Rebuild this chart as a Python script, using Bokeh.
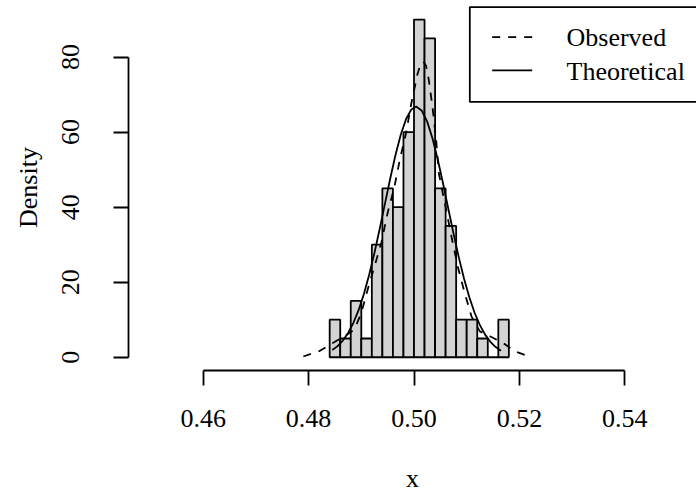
from bokeh.plotting import figure
from bokeh.models import Range1d, FixedTicker, ColumnDataSource
from bokeh.embed import file_html
from bokeh.resources import INLINE
from bokeh.core.properties import value

# ---------------- data ----------------
breaks = [0.484, 0.486, 0.488, 0.490, 0.492, 0.494, 0.496, 0.498, 0.500,
          0.502, 0.504, 0.506, 0.508, 0.510, 0.512, 0.514, 0.516, 0.518]
density = [10, 5, 15, 5, 30, 45, 40, 60, 90, 85, 45, 35, 10, 10, 5, 0, 10]

obs_x = [0.4790, 0.4820, 0.4846, 0.4868, 0.4887, 0.4900, 0.4912, 0.4925,
         0.4938, 0.4950, 0.4963, 0.4973, 0.4985, 0.4995, 0.5007, 0.5013,
         0.5018, 0.5023, 0.5028, 0.5035, 0.5042, 0.5047, 0.5061, 0.5071,
         0.5083, 0.5096, 0.5109, 0.5125, 0.5144, 0.5169, 0.5191, 0.5216]
obs_y = [0.2, 1.6, 3.8, 5.6, 7.4, 11.8, 18.0, 24.2,
         30.5, 38.5, 45.5, 52.6, 59.8, 67.7, 75.7, 78.2,
         78.8, 77.6, 74.0, 66.8, 58.0, 49.1, 39.3, 32.2,
         24.2, 17.2, 10.9, 6.9, 5.6, 3.8, 1.6, 0.3]

theo_x = [0.4845, 0.4855, 0.4865, 0.4875, 0.4885, 0.4895, 0.4905, 0.4915,
          0.4925, 0.4935, 0.4945, 0.4955, 0.4965, 0.4975, 0.4985, 0.4995,
          0.5004, 0.5015, 0.5025, 0.5035, 0.5045, 0.5055, 0.5065, 0.5075,
          0.5085, 0.5095, 0.5105, 0.5115, 0.5125, 0.5135, 0.5145, 0.5155,
          0.5165]
theo_y = [1.93, 2.96, 4.44, 6.47, 9.17, 12.61, 16.89, 21.99,
          27.85, 34.25, 41.01, 47.70, 53.97, 59.37, 63.50, 66.05,
          66.80, 65.67, 62.79, 58.38, 52.76, 46.38, 39.63, 32.94,
          26.61, 20.90, 15.97, 11.86, 8.57, 6.02, 4.11, 2.72,
          1.76]

x_ticks = [0.46, 0.48, 0.50, 0.52, 0.54]
y_ticks = [0, 20, 40, 60, 80]
legend_labels = ["Observed", "Theoretical"]
x_title = "x"
y_title = "Density"

# ---------------- layout ----------------
W, H = 696, 495
L, R, T, B = 128, 696, 4, 371          # frame edges in pixels
SX = 5270.0                            # px per x unit
SY = 3.7625                            # px per y unit
X_AT_PX, PX_OF_X = 0.46, 202.7
Y0_PX = 357.7

x_start = X_AT_PX - (PX_OF_X - L) / SX
x_end = X_AT_PX + (R - PX_OF_X) / SX
y_start = -(B - Y0_PX) / SY
y_end = (Y0_PX - T) / SY


def dx(px):
    return X_AT_PX + (px - PX_OF_X) / SX


def dy(py):
    return (Y0_PX - py) / SY


FONT = value("Liberation Serif")
FS = "26px"
LW = 1.8

p = figure(width=W, height=H, output_backend="svg", toolbar_location=None,
           x_range=Range1d(x_start, x_end), y_range=Range1d(y_start, y_end),
           min_border_left=L, min_border_right=0, min_border_top=T,
           min_border_bottom=H - B)
p.outline_line_color = None
p.grid.visible = False
p.background_fill_color = "white"
p.border_fill_color = "white"

# histogram bars
src = ColumnDataSource(dict(left=breaks[:-1], right=breaks[1:],
                            top=density, bottom=[0] * len(density)))
p.quad(left="left", right="right", top="top", bottom="bottom", source=src,
       fill_color="#D3D3D3", line_color="black", line_width=LW)

# curves
p.line(obs_x, obs_y, line_color="black", line_width=LW, line_dash="8 8")
p.line(theo_x, theo_y, line_color="black", line_width=LW)

# legend box (drawn by hand, R style)
p.quad(left=[dx(469.3)], right=[dx(720)], top=[dy(6.7)], bottom=[dy(101.7)],
       fill_color=None, line_color="black", line_width=LW)
p.line([dx(491.7), dx(531.7)], [dy(36.7)] * 2, line_color="black",
       line_width=LW, line_dash="8 8")
p.line([dx(491.7), dx(531.7)], [dy(70)] * 2, line_color="black",
       line_width=LW)
p.text(x=[dx(566)] * 2, y=[dy(37.5), dy(71)], text=legend_labels,
       text_font=FONT, text_font_size=FS, text_baseline="middle",
       text_align="left", text_color="black")

# axes
xa = p.xaxis[0]
xa.ticker = FixedTicker(ticks=x_ticks)
xa.major_label_overrides = {t: f"{t:.2f}" for t in x_ticks}
xa.bounds = (x_ticks[0], x_ticks[-1])
xa.axis_label = x_title

ya = p.yaxis[0]
ya.ticker = FixedTicker(ticks=y_ticks)
ya.major_label_overrides = {t: str(t) for t in y_ticks}
ya.bounds = (y_ticks[0], y_ticks[-1])
ya.axis_label = y_title
ya.major_label_orientation = "vertical"

for ax in (xa, ya):
    ax.minor_tick_line_color = None
    ax.major_tick_in = 0
    ax.major_tick_out = 15
    ax.axis_line_width = LW
    ax.major_tick_line_width = LW
    ax.axis_line_color = "black"
    ax.major_tick_line_color = "black"
    ax.major_label_text_font = "Liberation Serif"
    ax.major_label_text_font_size = FS
    ax.major_label_text_color = "black"
    ax.axis_label_text_font = "Liberation Serif"
    ax.axis_label_text_font_size = FS
    ax.axis_label_text_font_style = "normal"
    ax.axis_label_text_color = "black"

xa.major_label_standoff = 24
xa.axis_label_standoff = 34
xa.axis_label_text_baseline = "top"
ya.major_label_standoff = 34
ya.axis_label_standoff = 17

open("out.html", "w").write(file_html(p, INLINE))
